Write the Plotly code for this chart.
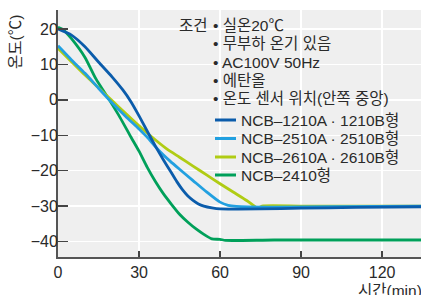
import plotly.graph_objects as go

# ---- data ----
t_1210 = [0, 5, 10, 15, 20, 24, 27, 30, 33, 36, 39, 42, 44, 46, 48, 50, 52, 54, 57, 60, 75, 90, 110, 135]
v_1210 = [20, 18.3, 15, 10.7, 6.5, 2.8, -0.5, -4.5, -8.8, -13, -16.9, -20.6, -23.1, -25.3, -27.1, -28.4, -29.4, -30, -30.5, -30.8, -30.8, -30.6, -30.4, -30.2]

t_2510 = [0, 5, 10, 15, 20, 25, 30, 33, 37, 41.5, 45, 50, 55, 60, 63, 66, 80, 100, 135]
v_2510 = [15.3, 11.3, 7.5, 3.3, -0.8, -4.6, -8.2, -10.5, -14, -17.3, -19.6, -22.8, -26, -28.9, -29.8, -30.1, -30.3, -30.2, -30]

t_2610 = [0, 5, 10, 15, 20, 25, 30, 34, 40, 45, 50, 55, 60, 65, 70, 74, 75.5, 90, 110, 135]
v_2610 = [14.6, 10.8, 7, 3.4, -0.2, -3.8, -7.3, -10, -13.7, -16.2, -18.7, -21.2, -23.7, -26.1, -28.5, -30.6, -30, -30, -30, -30]

t_2410 = [0, 2, 5, 10, 14, 19, 23, 27, 30, 33, 36, 39, 42, 45, 48, 51, 54, 57, 60, 62, 80, 135]
v_2410 = [20.5, 19.8, 17.3, 12, 6, 0, -5, -10.5, -14.5, -19, -23, -26.5, -29.5, -32.3, -34.5, -36.4, -38, -39.3, -39.4, -39.7, -39.6, -39.6]

series_names = ["NCB\u20131210A · 1210B형", "NCB\u20132510A · 2510B형", "NCB\u20132610A · 2610B형", "NCB\u20132410형"]
series_colors = ["#0b5cab", "#22a0e0", "#b0cc14", "#00a05a"]

x_ticks = [0, 30, 60, 90, 120]
y_ticks = [-40, -30, -20, -10, 0, 10, 20]

conditions = ["• 실온20℃", "• 무부하 온기 있음", "• AC100V 50Hz", "• 에탄올", "• 온도 센서 위치(안쪽 중앙)"]

FONT = "Liberation Sans, Arial, Noto Sans CJK KR, sans-serif"
BG = "#efefef"
TXT = "#2a2a2a"
FS = 15.5

fig = go.Figure()
data = [(t_2410, v_2410, 3), (t_2610, v_2610, 2), (t_2510, v_2510, 1), (t_1210, v_1210, 0)]
for tx, vy, i in data:
    fig.add_trace(go.Scatter(x=tx, y=vy, mode="lines", name=series_names[i], showlegend=False,
                             hoverinfo="skip",
                             line=dict(color=series_colors[i], width=2.8, shape="spline", smoothing=0.6)))

W, H = 421, 295
L, R, T, B = 58, 0, 10, 38
pw, ph = W - L - R, H - T - B

def fx(s):
    return (s - L) / pw

def fy(s):
    return (H - B - s) / ph

# text / legend backgrounds covering the grid
fig.add_shape(type="rect", xref="paper", yref="paper", x0=fx(170), x1=fx(416), y0=fy(108), y1=fy(13),
              fillcolor=BG, line_width=0, layer="between")
fig.add_shape(type="rect", xref="paper", yref="paper", x0=fx(185), x1=fx(404), y0=fy(183), y1=fy(105),
              fillcolor=BG, line_width=0, layer="between")

fig.add_annotation(xref="paper", yref="paper", x=fx(177), y=fy(25), text="조건", showarrow=False,
                   xanchor="left", yanchor="middle", font=dict(size=FS, color=TXT, family=FONT))
ys = [25, 43.5, 62, 80.5, 99]
for s, yy in zip(conditions, ys):
    fig.add_annotation(xref="paper", yref="paper", x=fx(211), y=fy(yy), text=s, showarrow=False,
                       xanchor="left", yanchor="middle", font=dict(size=FS, color=TXT, family=FONT))

# manual legend
leg_y = [120, 138.5, 157, 175]
for i, yy in enumerate(leg_y):
    fig.add_shape(type="line", xref="paper", yref="paper", x0=fx(215), x1=fx(236), y0=fy(yy), y1=fy(yy),
                  line=dict(color=series_colors[i], width=3), layer="above")
    fig.add_annotation(xref="paper", yref="paper", x=fx(239), y=fy(yy), text=series_names[i],
                       showarrow=False, xanchor="left", yanchor="middle",
                       font=dict(size=FS, color=TXT, family=FONT))

# axis titles
fig.add_annotation(xref="paper", yref="paper", x=fx(15), y=fy(42), text="온도(℃)", textangle=-90,
                   showarrow=False, xanchor="center", yanchor="middle",
                   font=dict(size=FS, color=TXT, family=FONT))
fig.add_annotation(xref="paper", yref="paper", x=fx(424), y=fy(280), text="시간(min)",
                   showarrow=False, xanchor="right", yanchor="top",
                   font=dict(size=FS, color=TXT, family=FONT))

fig.update_layout(
    width=W, height=H,
    margin=dict(l=L, r=R, t=T, b=B, pad=0, autoexpand=False),
    paper_bgcolor="white", plot_bgcolor=BG,
    font=dict(family=FONT, size=16, color=TXT),
    showlegend=False, hovermode=False,
)
fig.update_xaxes(range=[0, 134.4], tickvals=x_ticks, ticks="inside", ticklen=6, tickwidth=1.5,
                 tickcolor="#444", showline=True, linecolor="#555", linewidth=2,
                 showgrid=True, gridcolor="white", gridwidth=1.5, zeroline=False,
                 tickfont=dict(size=16, color=TXT), fixedrange=True, automargin=False)
fig.update_yaxes(range=[-44.4, 25.4], tickvals=y_ticks, ticks="inside", ticklen=10, tickwidth=1.5,
                 tickcolor="#444", showline=True, linecolor="#555", linewidth=2,
                 showgrid=True, gridcolor="white", gridwidth=1.5, zeroline=False,
                 ticklabelstandoff=-5,
                 tickfont=dict(size=16, color=TXT), fixedrange=True, automargin=False)

fig.write_html("out.html", config={"displayModeBar": False, "staticPlot": True},
               post_script="document.body.style.margin='0';document.documentElement.style.overflow='hidden';")
